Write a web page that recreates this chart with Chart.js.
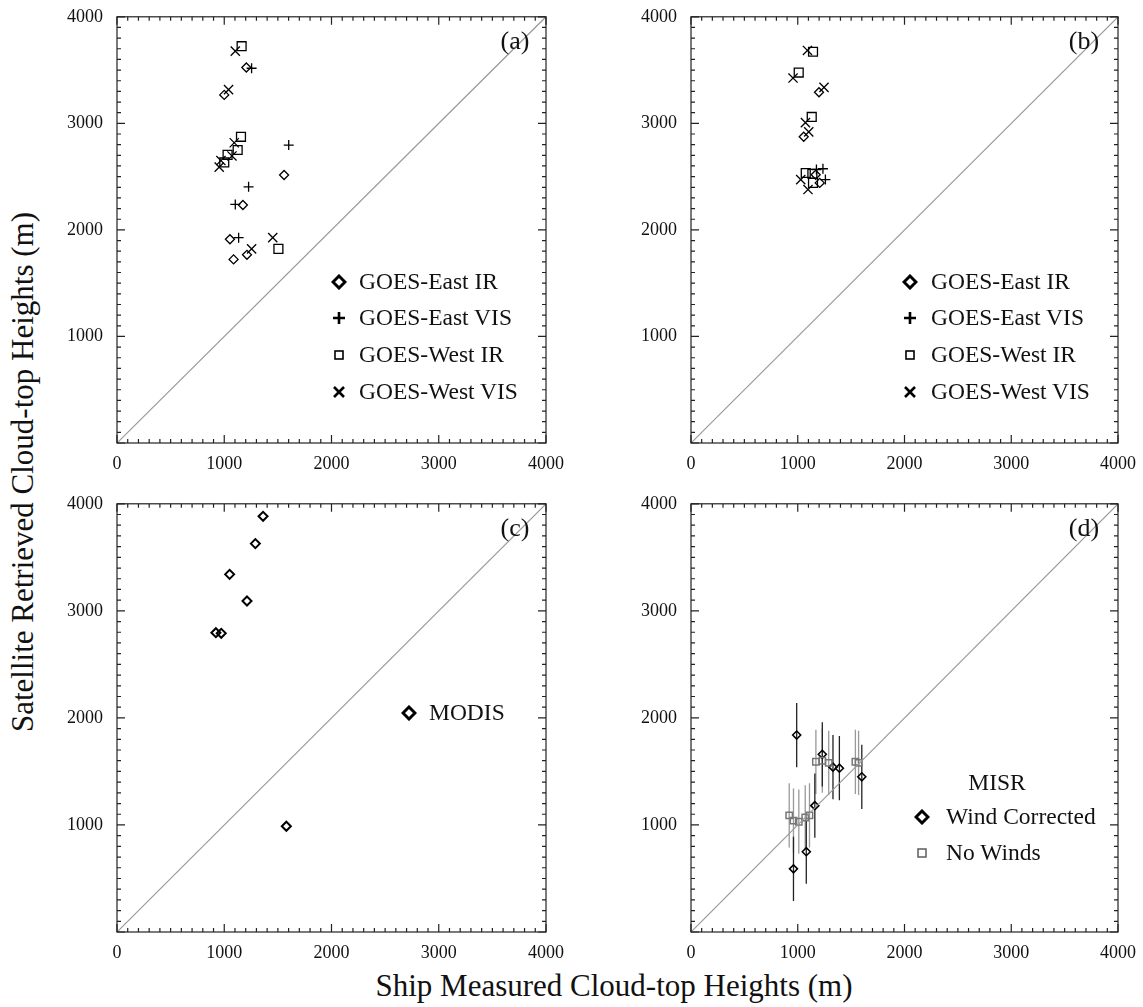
<!DOCTYPE html>
<html>
<head>
<meta charset="utf-8">
<script src="https://cdn.jsdelivr.net/npm/chart.js@4.4.0/dist/chart.umd.min.js"></script>
<style>
  body { margin: 0; background: #fff; width: 1143px; height: 1007px; position: relative; overflow: hidden;
         font-family: "Liberation Serif", "DejaVu Serif", serif; color: #111; }
  canvas { position: absolute; }
  .txt { position: absolute; white-space: nowrap; line-height: 1; transform: translateY(-50%); }
  .leg { font-size: 23.5px; }
  .mk { position: absolute; transform: translate(-50%, -50%); }
  .tag { font-size: 26px; transform: translate(-50%, -50%); }
</style>
</head>
<body>
<canvas id="pa" width="511" height="478" style="left:57px;top:0px"></canvas>
<canvas id="pb" width="509" height="478" style="left:631px;top:0px"></canvas>
<canvas id="pc" width="511" height="480" style="left:57px;top:487px"></canvas>
<canvas id="pd" width="509" height="480" style="left:631px;top:487px"></canvas>

<!-- panel tags -->
<div class="txt tag" style="left:515px;top:41px">(a)</div>
<div class="txt tag" style="left:1084px;top:41px">(b)</div>
<div class="txt tag" style="left:515px;top:528px">(c)</div>
<div class="txt tag" style="left:1084px;top:528px">(d)</div>

<!-- legend (a) -->
<svg class="mk" style="left:339px;top:282px" width="16" height="16"><path d="M8 2 L14 8 L8 14 L2 8 Z" fill="none" stroke="#000" stroke-width="3"/></svg>
<div class="txt leg" style="left:359px;top:282px">GOES-East IR</div>
<svg class="mk" style="left:339px;top:318px" width="16" height="16"><path d="M8 2 V14 M2 8 H14" stroke="#000" stroke-width="2.6"/></svg>
<div class="txt leg" style="left:359px;top:318px">GOES-East VIS</div>
<svg class="mk" style="left:339px;top:355px" width="16" height="16"><rect x="4" y="4" width="8" height="8" fill="none" stroke="#000" stroke-width="1.6"/></svg>
<div class="txt leg" style="left:359px;top:355px">GOES-West IR</div>
<svg class="mk" style="left:339px;top:392px" width="16" height="16"><path d="M3 3 L13 13 M13 3 L3 13" stroke="#000" stroke-width="2.6"/></svg>
<div class="txt leg" style="left:359px;top:392px">GOES-West VIS</div>

<!-- legend (b) -->
<svg class="mk" style="left:910px;top:282px" width="16" height="16"><path d="M8 2 L14 8 L8 14 L2 8 Z" fill="none" stroke="#000" stroke-width="3"/></svg>
<div class="txt leg" style="left:931px;top:282px">GOES-East IR</div>
<svg class="mk" style="left:910px;top:318px" width="16" height="16"><path d="M8 2 V14 M2 8 H14" stroke="#000" stroke-width="2.6"/></svg>
<div class="txt leg" style="left:931px;top:318px">GOES-East VIS</div>
<svg class="mk" style="left:910px;top:355px" width="16" height="16"><rect x="4" y="4" width="8" height="8" fill="none" stroke="#000" stroke-width="1.6"/></svg>
<div class="txt leg" style="left:931px;top:355px">GOES-West IR</div>
<svg class="mk" style="left:910px;top:392px" width="16" height="16"><path d="M3 3 L13 13 M13 3 L3 13" stroke="#000" stroke-width="2.6"/></svg>
<div class="txt leg" style="left:931px;top:392px">GOES-West VIS</div>

<!-- legend (c) -->
<svg class="mk" style="left:409px;top:713px" width="16" height="16"><path d="M8 2 L14 8 L8 14 L2 8 Z" fill="none" stroke="#000" stroke-width="3"/></svg>
<div class="txt leg" style="left:429px;top:713px">MODIS</div>

<!-- legend (d) -->
<div class="txt leg" style="left:997px;top:783px;transform:translate(-50%,-50%)">MISR</div>
<svg class="mk" style="left:922px;top:817px" width="16" height="16"><path d="M8 2 L14 8 L8 14 L2 8 Z" fill="none" stroke="#000" stroke-width="3"/></svg>
<div class="txt leg" style="left:946px;top:817px">Wind Corrected</div>
<svg class="mk" style="left:922px;top:853px" width="16" height="16"><rect x="4" y="4" width="8" height="8" fill="none" stroke="#666" stroke-width="1.6"/></svg>
<div class="txt leg" style="left:946px;top:853px">No Winds</div>

<!-- axis titles -->
<div class="txt" style="left:22px;top:472px;font-size:31px;transform:translate(-50%,-50%) rotate(-90deg)">Satellite Retrieved Cloud-top Heights (m)</div>
<div class="txt" style="left:614px;top:985px;font-size:31px;transform:translate(-50%,-50%)">Ship Measured Cloud-top Heights (m)</div>

<script>
const axisMin = 0;
const axisMax = 4000;
const majorStep = 1000;
const minorStep = 100;
const oneToOne = [0, 4000];

// (a)
const aEastIrX  = [1206, 1000, 1558, 1174, 1053, 1087, 1212];
const aEastIrY  = [3524, 3267, 2515, 2234, 1912, 1723, 1766];
const aEastVisX = [1255, 1601, 1227, 1103, 1134];
const aEastVisY = [3517, 2796, 2404, 2239, 1927];
const aWestIrX  = [1162, 1156, 1125, 1031, 1000, 1505];
const aWestIrY  = [3724, 2874, 2750, 2704, 2633, 1822];
const aWestVisX = [1103, 1040, 1093, 1072, 969, 953, 1452, 1255];
const aWestVisY = [3678, 3316, 2818, 2694, 2651, 2589, 1927, 1822];

// (b)
const bEastIrX  = [1199, 1056, 1168, 1206];
const bEastIrY  = [3292, 2874, 2518, 2441];
const bEastVisX = [1236, 1259, 1175];
const bEastVisY = [2574, 2472, 2567];
const bWestIrX  = [1143, 1009, 1131, 1075, 1137, 1143];
const bWestIrY  = [3672, 3477, 3060, 2534, 2527, 2441];
const bWestVisX = [1091, 956, 1246, 1072, 1103, 1028, 1096];
const bWestVisY = [3684, 3425, 3338, 3007, 2920, 2472, 2379];

// (c)
const cModisX = [1362, 1290, 1050, 1212, 922, 972, 1579];
const cModisY = [3883, 3628, 3341, 3092, 2796, 2790, 988];

// (d)
const dWindX  = [990, 960, 1080, 1160, 1230, 1330, 1390, 1600];
const dWindY  = [1840, 590, 750, 1180, 1660, 1540, 1530, 1450];
const dWindLo = [1540, 290, 450, 880, 1360, 1240, 1230, 1150];
const dWindHi = [2140, 890, 1050, 1480, 1960, 1840, 1830, 1750];
const dNoX  = [920, 960, 1010, 1070, 1110, 1170, 1230, 1290, 1540, 1570];
const dNoY  = [1090, 1040, 1030, 1070, 1090, 1590, 1600, 1580, 1590, 1580];
const dNoLo = [790, 740, 730, 770, 790, 1290, 1300, 1280, 1290, 1280];
const dNoHi = [1390, 1340, 1330, 1370, 1390, 1890, 1900, 1880, 1890, 1880];

const pts = (xs, ys) => xs.map((v, i) => ({ x: v, y: ys[i] }));

const framePlugin = {
    id: 'frame',
    afterDraw(chart) {
        const { ctx, chartArea: a, scales: { x, y } } = chart;
        ctx.save();
        ctx.strokeStyle = '#222';
        ctx.lineWidth = 1.2;
        ctx.strokeRect(a.left, a.top, a.right - a.left, a.bottom - a.top);
        ctx.beginPath();
        for (let v = axisMin; v <= axisMax; v += minorStep) {
            const len = v % majorStep === 0 ? 8 : 4;
            const px = x.getPixelForValue(v);
            const py = y.getPixelForValue(v);
            ctx.moveTo(px, a.bottom); ctx.lineTo(px, a.bottom - len);
            ctx.moveTo(px, a.top);    ctx.lineTo(px, a.top + len);
            ctx.moveTo(a.left, py);   ctx.lineTo(a.left + len, py);
            ctx.moveTo(a.right, py);  ctx.lineTo(a.right - len, py);
        }
        ctx.stroke();
        ctx.restore();
    }
};

const errorBarPlugin = {
    id: 'errbars',
    beforeDatasetsDraw(chart) {
        const { ctx, scales: { x, y } } = chart;
        chart.data.datasets.forEach(ds => {
            if (!ds.errLo) return;
            ctx.save();
            ctx.strokeStyle = ds.errColor;
            ctx.lineWidth = 1.3;
            ctx.beginPath();
            ds.data.forEach((p, i) => {
                const px = x.getPixelForValue(p.x);
                ctx.moveTo(px, y.getPixelForValue(ds.errLo[i]));
                ctx.lineTo(px, y.getPixelForValue(ds.errHi[i]));
            });
            ctx.stroke();
            ctx.restore();
        });
    }
};

const tickFont = { family: '"Liberation Serif", serif', size: 18 };

function series(xs, ys, style, radius, color, width) {
    return {
        data: pts(xs, ys),
        pointStyle: style,
        pointRadius: radius,
        pointBorderColor: color || '#000',
        pointBackgroundColor: 'rgba(0,0,0,0)',
        pointBorderWidth: width || 1.3,
        showLine: false
    };
}

function makePanel(id, datasets) {
    const diagonal = {
        data: pts(oneToOne, oneToOne),
        showLine: true,
        borderColor: '#9a9a9a',
        borderWidth: 1.2,
        pointRadius: 0
    };
    return new Chart(document.getElementById(id), {
        type: 'scatter',
        data: { datasets: [diagonal, ...datasets] },
        options: {
            responsive: false,
            animation: false,
            events: [],
            layout: { padding: { top: 12, right: 22, left: 0, bottom: 0 } },
            plugins: { legend: { display: false }, tooltip: { enabled: false } },
            scales: {
                x: {
                    type: 'linear', min: axisMin, max: axisMax,
                    grid: { display: false }, border: { display: false },
                    ticks: { stepSize: majorStep, color: '#111', font: tickFont, padding: 2, maxRotation: 0,
                             callback: v => String(v) },
                    afterFit: s => { s.height = 35; }
                },
                y: {
                    type: 'linear', min: axisMin, max: axisMax,
                    grid: { display: false }, border: { display: false },
                    ticks: { stepSize: majorStep, color: '#111', font: tickFont, padding: 6,
                             callback: v => v === 0 ? '' : String(v) },
                    afterFit: s => { s.width = 60; }
                }
            }
        },
        plugins: [framePlugin, errorBarPlugin]
    });
}

makePanel('pa', [
    series(aEastIrX, aEastIrY, 'rectRot', 4.5),
    series(aEastVisX, aEastVisY, 'cross', 5),
    series(aWestIrX, aWestIrY, 'rect', 6.3),
    series(aWestVisX, aWestVisY, 'crossRot', 6.5)
]);

makePanel('pb', [
    series(bEastIrX, bEastIrY, 'rectRot', 4.5),
    series(bEastVisX, bEastVisY, 'cross', 5),
    series(bWestIrX, bWestIrY, 'rect', 6.3),
    series(bWestVisX, bWestVisY, 'crossRot', 6.5)
]);

makePanel('pc', [
    series(cModisX, cModisY, 'rectRot', 4.5, '#000', 2)
]);

const noWinds = series(dNoX, dNoY, 'rect', 4.5, '#777', 1.5);
noWinds.errLo = dNoLo; noWinds.errHi = dNoHi; noWinds.errColor = '#999';
const windCorr = series(dWindX, dWindY, 'rectRot', 4, '#000', 1.6);
windCorr.errLo = dWindLo; windCorr.errHi = dWindHi; windCorr.errColor = '#222';
makePanel('pd', [noWinds, windCorr]);
</script>
</body>
</html>
